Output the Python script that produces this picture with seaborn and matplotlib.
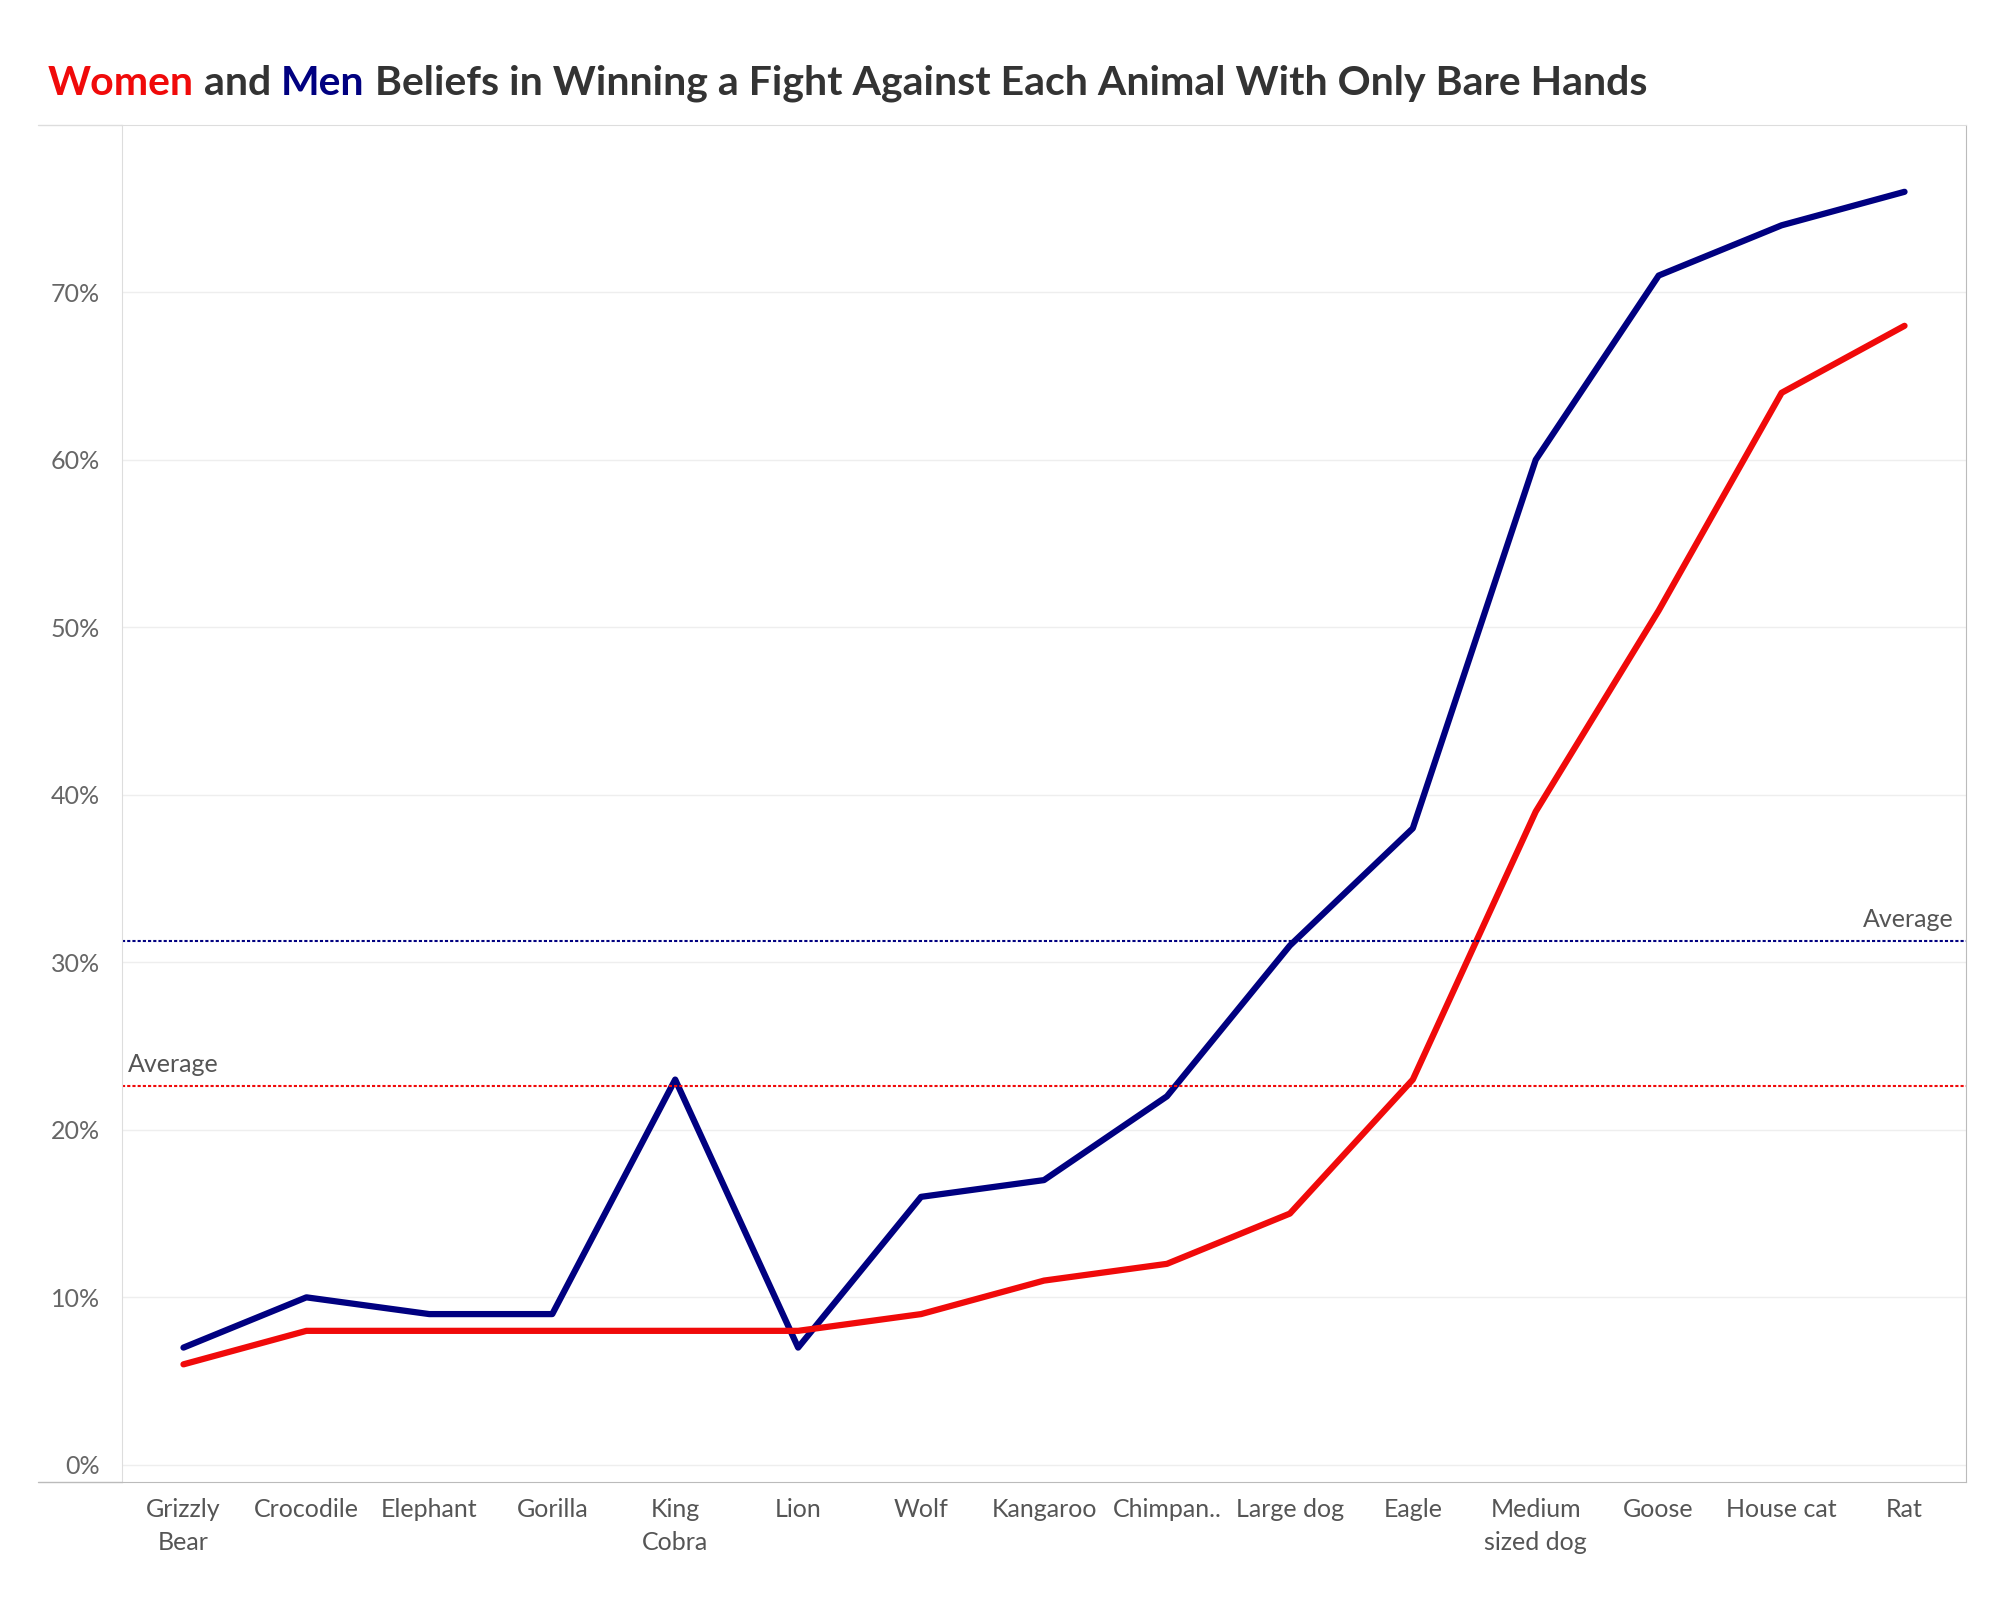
import matplotlib.pyplot as plt
import seaborn as sns
import pandas as pd
from matplotlib.lines import Line2D

animals = ["Grizzly\nBear", "Crocodile", "Elephant", "Gorilla", "King\nCobra", "Lion", "Wolf",
           "Kangaroo", "Chimpan..", "Large dog", "Eagle", "Medium\nsized dog", "Goose", "House cat", "Rat"]
men = [7, 10, 9, 9, 23, 7, 16, 17, 22, 31, 38, 60, 71, 74, 76]
women = [6, 8, 8, 8, 8, 8, 9, 11, 12, 15, 23, 39, 51, 64, 68]
men_avg = 31.3
women_avg = 22.6

RED = "#f00a0a"
NAVY = "#000080"

sns.set_style("white")
plt.rcParams['font.family'] = ['Lato', 'DejaVu Sans']

df = pd.DataFrame({"x": list(range(len(animals))) * 2,
                   "value": men + women,
                   "group": ["Men"] * len(men) + ["Women"] * len(women)})

fig = plt.figure(figsize=(20, 16), dpi=100)
ax = fig.add_axes([0.061, 0.074, 0.922, 0.848])
sns.lineplot(data=df, x="x", y="value", hue="group", palette={"Men": NAVY, "Women": RED},
             linewidth=4.5, ax=ax, legend=False)

ax.axhline(men_avg, color=NAVY, ls=(0, (1.5, 1)), lw=1.5)
ax.axhline(women_avg, color=RED, ls=(0, (1.5, 1)), lw=1.5)
ax.text(14.4, men_avg + 0.6, "Average", ha="right", va="bottom", fontsize=18, color="#555555")
ax.text(-0.45, women_avg + 0.6, "Average", ha="left", va="bottom", fontsize=18, color="#555555")

ax.set_xlim(-0.5, 14.5)
ax.set_ylim(-1, 80)
ax.set_yticks(range(0, 80, 10))
ax.set_yticklabels([f"{v}%" for v in range(0, 80, 10)], fontsize=18, color="#666666")
ax.set_xticks(range(len(animals)))
ax.set_xticklabels(animals, fontsize=18, color="#555555", linespacing=1.5)
ax.set_xticks([i + 0.5 for i in range(-1, 15)], minor=True)
ax.tick_params(axis="x", which="major", length=0, pad=12)
ax.tick_params(axis="x", which="minor", length=12, color="#dddddd", width=1)
ax.tick_params(axis="y", length=0, pad=16)
ax.set_xlabel("")
ax.set_ylabel("")
ax.grid(axis="y", color="#eeeeee", lw=1)
for s in ["left", "top"]:
    ax.spines[s].set_color("#dddddd")
for s in ["right", "bottom"]:
    ax.spines[s].set_color("#bbbbbb")

fig.add_artist(Line2D([0.019, 0.061], [0.922, 0.922], color="#dddddd", lw=1, transform=fig.transFigure))
fig.add_artist(Line2D([0.019, 0.061], [0.074, 0.074], color="#bbbbbb", lw=1, transform=fig.transFigure))

# title with coloured words
parts = [("Women", RED), (" and ", "#333333"), ("Men", NAVY),
         (" Beliefs in Winning a Fight Against Each Animal With Only Bare Hands", "#333333")]
fig.canvas.draw()
r = fig.canvas.get_renderer()
x = 0.024
for txt, col in parts:
    t = fig.text(x, 0.948, txt, color=col, fontsize=29.5, fontweight="bold", va="center")
    bb = t.get_window_extent(renderer=r)
    x += bb.width / fig.bbox.width

fig.savefig("out.png", dpi=100)
